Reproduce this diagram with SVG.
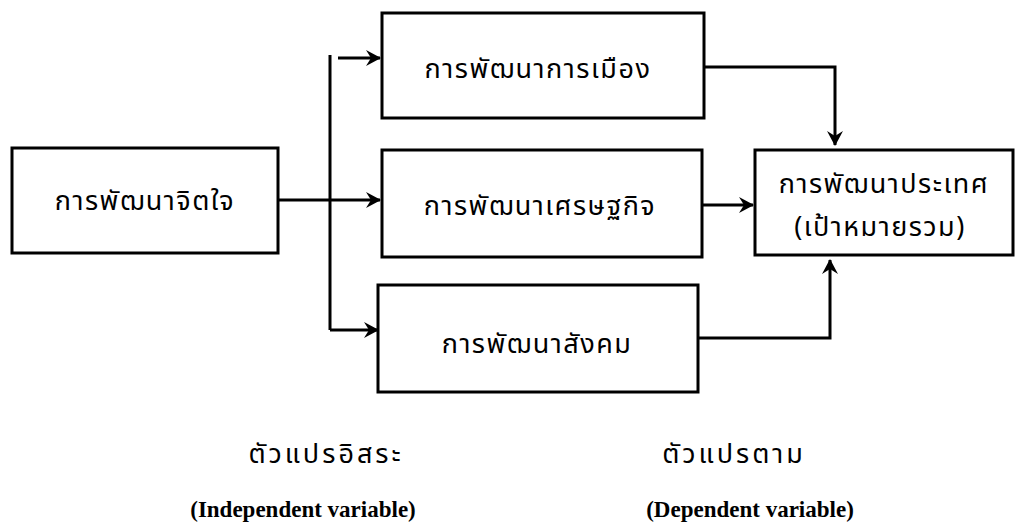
<svg xmlns="http://www.w3.org/2000/svg" width="1016" height="526" viewBox="0 0 1016 526">
<style>
.box{fill:#fff;stroke:#000;stroke-width:3}
.th{font-family:"Noto Sans Thai","Noto Sans","DejaVu Sans",sans-serif;font-size:27px;letter-spacing:1.5px;fill:#000;text-anchor:middle}
.lb{letter-spacing:3px}
.en{font-family:"Liberation Serif",serif;font-size:23px;font-weight:bold;fill:#000;text-anchor:middle}
.ln{fill:none;stroke:#000;stroke-width:3}
</style>
<defs>
<marker id="ah" markerWidth="16" markerHeight="16" refX="14" refY="8" orient="auto" markerUnits="userSpaceOnUse">
<path d="M0,0 L15,8 L0,16 L5,8 Z" fill="#000"/>
</marker>
</defs>
<rect width="1016" height="526" fill="#fff"/>
<g id="connectors">
<path class="ln" d="M278,200 L330,200"/>
<path class="ln" d="M330,55 L330,330"/>
<path class="ln" d="M338,58 L380,58" marker-end="url(#ah)"/>
<path class="ln" d="M330,200 L380,200" marker-end="url(#ah)"/>
<path class="ln" d="M330,330 L378,330" marker-end="url(#ah)"/>
<path class="ln" d="M704,67 L835,67 L835,145" marker-end="url(#ah)"/>
<path class="ln" d="M702,205 L753,205" marker-end="url(#ah)"/>
<path class="ln" d="M698,338 L830,338 L830,260" marker-end="url(#ah)"/>
</g>
<g id="n1">
<rect class="box" x="12" y="148" width="266" height="105"/>
<text class="th" x="145" y="210">การพัฒนาจิตใจ</text>
</g>
<g id="n2">
<rect class="box" x="382" y="13" width="322" height="105"/>
<text class="th" x="538" y="78">การพัฒนาการเมือง</text>
</g>
<g id="n3">
<rect class="box" x="382" y="150" width="320" height="107"/>
<text class="th" x="540" y="215">การพัฒนาเศรษฐกิจ</text>
</g>
<g id="n4">
<rect class="box" x="378" y="285" width="320" height="107"/>
<text class="th" x="537" y="353">การพัฒนาสังคม</text>
</g>
<g id="n5">
<rect class="box" x="755" y="150" width="258" height="105"/>
<text class="th" x="884" y="193">การพัฒนาประเทศ</text>
<text class="th" x="880" y="236">(เป้าหมายรวม)</text>
</g>
<g id="labels">
<text class="th lb" x="326" y="463">ตัวแปรอิสระ</text>
<text class="en" x="303" y="517">(Independent variable)</text>
<text class="th lb" x="734" y="463">ตัวแปรตาม</text>
<text class="en" x="750" y="517">(Dependent variable)</text>
</g>
</svg>
